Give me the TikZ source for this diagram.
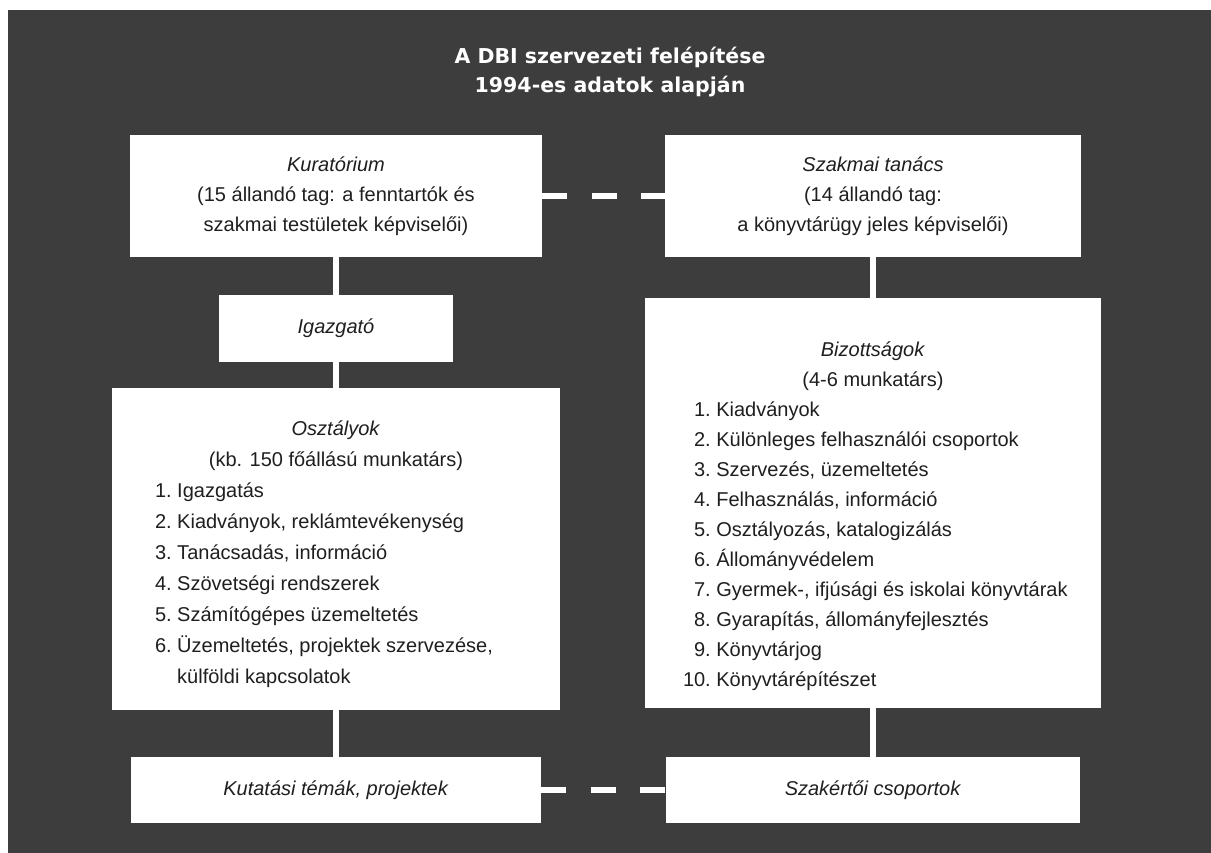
\documentclass[tikz,border=0pt]{standalone}
\usepackage{fontspec}
\setmainfont{Liberation Sans}
\newfontfamily\headfont{DejaVu Sans}

\definecolor{screen}{gray}{0.24}
\definecolor{ink}{gray}{0.12}

\tikzstyle{box} = [fill=white, inner sep=0pt, text=ink, align=center, font=\fontsize{20}{30}\selectfont]
\tikzstyle{board-block} = [box, minimum height=122pt]
\tikzstyle{head-block} = [box, minimum width=234pt, minimum height=67pt]
\tikzstyle{unit-block} = [box, minimum width=448pt, minimum height=322pt, font=\fontsize{20}{31}\selectfont]
\tikzstyle{committee-block} = [box, minimum width=456pt, minimum height=410pt]
\tikzstyle{group-block} = [box, minimum height=66pt]
\tikzstyle{link} = [draw=white, line width=6pt]
\tikzstyle{dash-link} = [link, line width=5.5pt, dash pattern=on 25pt off 24.5pt]

\begin{document}
\begin{tikzpicture}[x=1pt, y=-1pt]

	\useasboundingbox (0,0) rectangle (1211,853);
	\fill[screen] (8,10) rectangle (1211,853);

	\node [text=white, align=center, font=\headfont\bfseries\fontsize{20.5}{29}\selectfont] (title) at (610,72) {A DBI szervezeti felépítése\\1994-es adatok alapján};

	\node [board-block, minimum width=412pt] (Kurat) at (336,196) {\textit{Kuratórium}\\(15 állandó tag: a fenntartók és\\szakmai testületek képviselői)};
	\node [board-block, minimum width=416pt] (Szakm) at (873,196) {\textit{Szakmai tanács}\\(14 állandó tag:\\a könyvtárügy jeles képviselői)};
	\node [head-block] (Igaz) at (336,328.5) {\textit{Igazgató}};

	\node [unit-block] (Oszt) at (336,549) {\begin{minipage}{448pt}\vspace*{16pt}\centering
		\textit{Osztályok}\\
		(kb. 150 főállású munkatárs)\par\raggedright
		\begin{tabular}[t]{@{\hspace{43pt}}r@{\ }l@{}}
			1. & Igazgatás\\
			2. & Kiadványok, reklámtevékenység\\
			3. & Tanácsadás, információ\\
			4. & Szövetségi rendszerek\\
			5. & Számítógépes üzemeltetés\\
			6. & Üzemeltetés, projektek szervezése,\\
			   & külföldi kapcsolatok
		\end{tabular}
	\end{minipage}};

	\node [committee-block] (Bizot) at (873,503) {\begin{minipage}{456pt}\vspace*{32pt}\centering
		\textit{Bizottságok}\\
		(4-6 munkatárs)\par\raggedright
		\begin{tabular}[t]{@{\hspace{38pt}}r@{\ }l@{}}
			1. & Kiadványok\\
			2. & Különleges felhasználói csoportok\\
			3. & Szervezés, üzemeltetés\\
			4. & Felhasználás, információ\\
			5. & Osztályozás, katalogizálás\\
			6. & Állományvédelem\\
			7. & Gyermek-, ifjúsági és iskolai könyvtárak\\
			8. & Gyarapítás, állományfejlesztés\\
			9. & Könyvtárjog\\
			10. & Könyvtárépítészet
		\end{tabular}
	\end{minipage}};

	\node [group-block, minimum width=410pt] (Kutat) at (336,790) {\textit{Kutatási témák, projektek}};
	\node [group-block, minimum width=414pt] (Szaker) at (873,790) {\textit{Szakértői csoportok}};

	% vertical links
	\draw[link] (Kurat.south) -- (Igaz.north);
	\draw[link] (Igaz.south) -- (Oszt.north);
	\draw[link] (Oszt.south) -- (Kutat.north);
	\draw[link] (Szakm.south) -- (Bizot.north);
	\draw[link] (Bizot.south) -- (Szaker.north);

	% dashed links
	\draw[dash-link] (Kurat.east) -- (Szakm.west);
	\draw[dash-link] (Kutat.east) -- (Szaker.west);

\end{tikzpicture}
\end{document}
